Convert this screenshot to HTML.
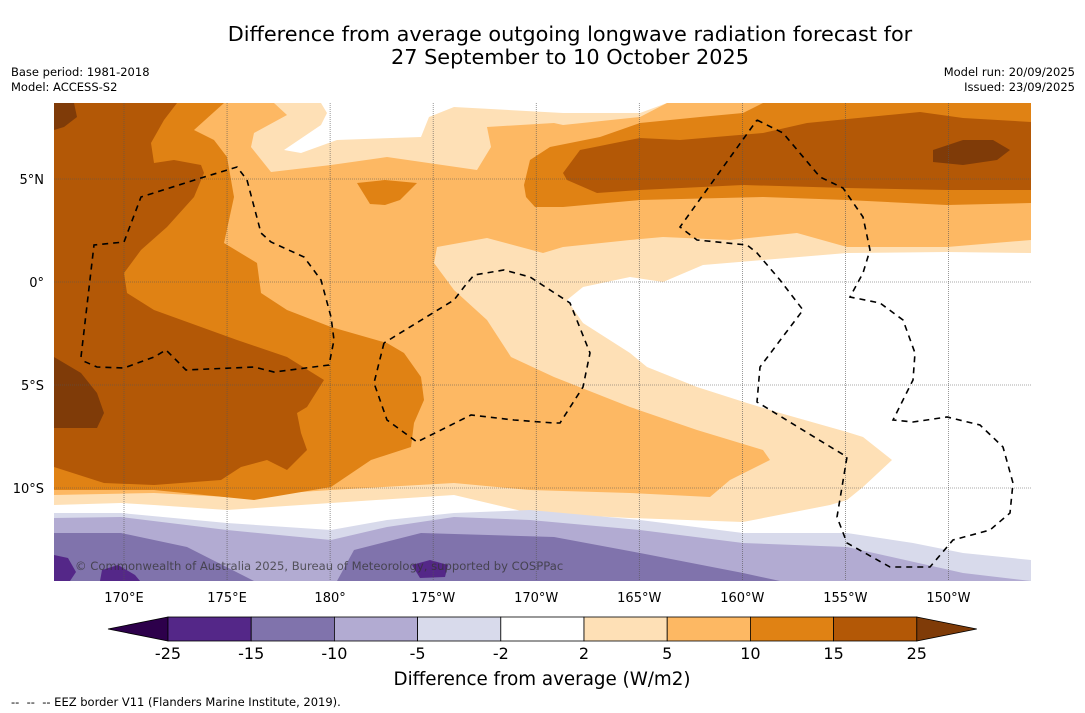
<!DOCTYPE html>
<html><head><meta charset="utf-8">
<style>
body{margin:0;background:#fff;width:1085px;height:713px;overflow:hidden;font-family:"Liberation Sans","DejaVu Sans",sans-serif;}
svg{position:absolute;left:0;top:0}
</style></head>
<body>
<svg id="s" width="1085" height="713" viewBox="0 0 1085 713">
<text x="570" y="41" font-size="20.8" text-anchor="middle" fill="#000" font-family="DejaVu Sans, sans-serif">Difference from average outgoing longwave radiation forecast for</text>
<text x="570" y="64" font-size="20.8" text-anchor="middle" fill="#000" font-family="DejaVu Sans, sans-serif">27 September to 10 October 2025</text>
<text x="11" y="76" font-size="11.5" font-family="DejaVu Sans, sans-serif">Base period: 1981-2018</text>
<text x="11" y="91" font-size="11.5" font-family="DejaVu Sans, sans-serif">Model: ACCESS-S2</text>
<text x="1075" y="76" font-size="11.5" text-anchor="end" font-family="DejaVu Sans, sans-serif">Model run: 20/09/2025</text>
<text x="1075" y="91" font-size="11.5" text-anchor="end" font-family="DejaVu Sans, sans-serif">Issued: 23/09/2025</text>

<defs><clipPath id="mc"><rect x="54" y="103" width="977" height="478"/></clipPath></defs>
<g clip-path="url(#mc)">
<rect x="54" y="103" width="977" height="478" fill="#fff"/>
<path fill="#fee0b6" d="M54,103 L321,103 L327,113 L321,125 L284,150 L301,153 L337,140 L421,137 L429,117 L454,107 L563,113 L640,113 L667,103 L1031,103 L1031,253 L947,252 L847,253 L763,260 L703,265 L663,282 L630,277 L583,287 L567,300 L583,323 L630,353 L647,367 L697,387 L747,403 L780,413 L847,432 L863,437 L892,460 L863,487 L847,500 L830,505 L743,522 L630,518 L530,513 L454,495 L331,503 L227,510 L154,505 L121,503 L54,505 Z"/>
<path fill="#fdb863" d="M54,103 L274,103 L287,115 L254,133 L251,147 L271,172 L331,165 L387,157 L477,170 L491,147 L487,127 L554,123 L563,125 L640,117 L667,103 L1031,103 L1031,240 L947,247 L847,247 L797,233 L730,240 L663,237 L630,240 L563,247 L543,253 L487,238 L437,247 L434,263 L454,290 L487,320 L511,357 L554,377 L630,407 L697,430 L763,450 L770,460 L730,480 L710,497 L630,493 L530,490 L454,483 L331,490 L227,497 L154,493 L54,495 Z"/>
<path fill="#e08214" d="M54,103 L224,103 L194,130 L214,140 L227,157 L234,197 L224,243 L257,263 L261,293 L287,310 L331,327 L387,343 L404,353 L421,377 L424,400 L414,423 L411,447 L371,460 L331,487 L254,500 L154,490 L54,490 Z M357,183 L385,180 L417,183 L400,200 L385,205 L370,204 Z M524,185 L530,160 L550,147 L600,137 L640,123 L700,117 L743,113 L763,103 L1031,103 L1031,203 L947,205 L847,200 L763,197 L640,200 L563,207 L535,207 L526,197 Z"/>
<path fill="#b35806" d="M54,103 L177,103 L164,120 L151,143 L154,163 L174,160 L201,165 L204,173 L194,197 L167,227 L141,250 L124,273 L127,293 L154,310 L237,340 L287,357 L324,380 L307,407 L297,413 L301,433 L307,450 L287,470 L267,460 L241,467 L221,480 L154,485 L104,483 L54,467 Z M563,173 L580,150 L640,138 L680,140 L763,133 L807,123 L920,112 L963,118 L1031,122 L1031,190 L947,190 L847,188 L743,185 L640,190 L597,193 L567,180 Z"/>
<path fill="#7f3b08" d="M54,103 L74,103 L77,117 L64,127 L54,130 Z M54,357 L81,373 L97,393 L104,413 L97,428 L54,428 Z M933,150 L963,140 L993,140 L1010,150 L997,160 L963,165 L933,162 Z"/>
<path fill="#d8daeb" d="M54,513 L121,513 L227,523 L331,530 L387,520 L454,513 L530,510 L640,520 L743,533 L847,533 L913,543 L963,553 L1031,560 L1031,581 L54,581 Z"/>
<path fill="#b2abd2" d="M54,518 L121,517 L227,530 L331,540 L387,527 L454,517 L530,520 L640,530 L743,543 L847,547 L963,573 L1031,581 L54,581 Z"/>
<path fill="#8073ac" d="M54,533 L121,533 L187,547 L254,581 L54,581 Z M337,581 L354,550 L421,533 L554,537 L640,553 L743,573 L780,581 Z"/>
<path fill="#542788" d="M54,555 L68,558 L76,572 L70,581 L54,581 Z M102,570 L118,565 L135,575 L140,581 L100,581 Z M412,565 L430,560 L448,565 L445,577 L420,578 Z"/>
<g id="grid"></g>
<g fill="none" stroke="#000" stroke-width="1.6" stroke-dasharray="6,5">
<polyline points="81,357 94,245 124,242 141,197 201,178 237,167 247,180 261,233 271,242 304,257 321,280 331,317 334,340 329,365 274,372 254,367 186,370 166,350 154,357 124,368 97,367 81,360"/>
<polyline points="384,343 374,383 387,420 417,442 471,415 514,420 554,423 560,423 583,387 590,353 570,303 530,277 504,270 474,275 464,287 454,300 384,343"/>
<polyline points="757,120 783,133 820,177 843,188 863,217 870,250 863,273 850,297 880,303 903,320 915,353 913,380 893,420 913,422 947,417 980,425 1003,447 1013,483 1010,513 990,530 953,540 930,567 890,567 847,543 837,517 847,457 757,402 760,367 803,310 780,280 757,253 747,245 697,240 680,227 757,120"/>
</g>
<text x="75" y="570" font-size="11.6" fill="#333" fill-opacity="0.75" font-family="DejaVu Sans, sans-serif">© Commonwealth of Australia 2025, Bureau of Meteorology, supported by COSPPac</text>
</g>
<g id="axes" font-family="DejaVu Sans, sans-serif" font-size="13"></g>
<g id="cbar" font-family="DejaVu Sans, sans-serif"></g>
<text x="542" y="685" font-size="18.3" text-anchor="middle" font-family="DejaVu Sans, sans-serif">Difference from average (W/m2)</text>
<text x="11" y="706" font-size="11.5" font-family="DejaVu Sans, sans-serif" xml:space="preserve">--  --  -- EEZ border V11 (Flanders Marine Institute, 2019).</text>
</svg>
<script>
const lonTicks=[170,175,180,185,190,195,200,205,210];
const lonLabels=["170°E","175°E","180°","175°W","170°W","165°W","160°W","155°W","150°W"];
const latTicks=[5,0,-5,-10];
const latLabels=["5°N","0°","5°S","10°S"];
const cbLevels=["-25","-15","-10","-5","-2","2","5","10","15","25"];
const cbColors=["#542788","#8073ac","#b2abd2","#d8daeb","#ffffff","#fee0b6","#fdb863","#e08214","#b35806"];
const cbUnder="#2d004b", cbOver="#7f3b08";
const NS="http://www.w3.org/2000/svg";
const xLon=l=>124+(l-170)*20.61;
const yLat=l=>282-l*20.6;
function mk(t,a,p){const e=document.createElementNS(NS,t);for(const k in a)e.setAttribute(k,a[k]);p.appendChild(e);return e;}
const grid=document.getElementById('grid'),axes=document.getElementById('axes'),cb=document.getElementById('cbar');
lonTicks.forEach((l,i)=>{
 const x=xLon(l);
 const g=mk('line',{x1:x,x2:x,y1:103,y2:581,stroke:'#555','stroke-width':0.6,'stroke-dasharray':'1,1'},grid);
 
 
 const t=mk('text',{x:x,y:602,'text-anchor':'middle'},axes);t.textContent=lonLabels[i];
 
 
});
latTicks.forEach((l,i)=>{
 const y=yLat(l);
 const g=mk('line',{x1:54,x2:1031,y1:y,y2:y,stroke:'#555','stroke-width':0.6,'stroke-dasharray':'1,1'},grid);
 
 
 const t=mk('text',{x:44,y:y+5,'text-anchor':'end'},axes);t.textContent=latLabels[i];
 
 
});
const cx0=168,cw=83.2,cy=617,ch=24;
const tri1=mk('polygon',{points:`108,${cy+ch/2} ${cx0},${cy} ${cx0},${cy+ch}`,fill:cbUnder,stroke:'#000','stroke-width':0.8},cb);


cbColors.forEach((c,i)=>{
 const r=mk('rect',{x:cx0+i*cw,y:cy,width:cw,height:ch,fill:c,stroke:'#000','stroke-width':0.8},cb);
 
 
});
const xe=cx0+cbColors.length*cw;
const tri2=mk('polygon',{points:`${xe},${cy} ${xe+60},${cy+ch/2} ${xe},${cy+ch}`,fill:cbOver,stroke:'#000','stroke-width':0.8},cb);


cbLevels.forEach((v,i)=>{
 const t=mk('text',{x:cx0+i*cw,y:659,'text-anchor':'middle','font-size':16},cb);t.textContent=v;
 
 
});
</script>
</body></html>
